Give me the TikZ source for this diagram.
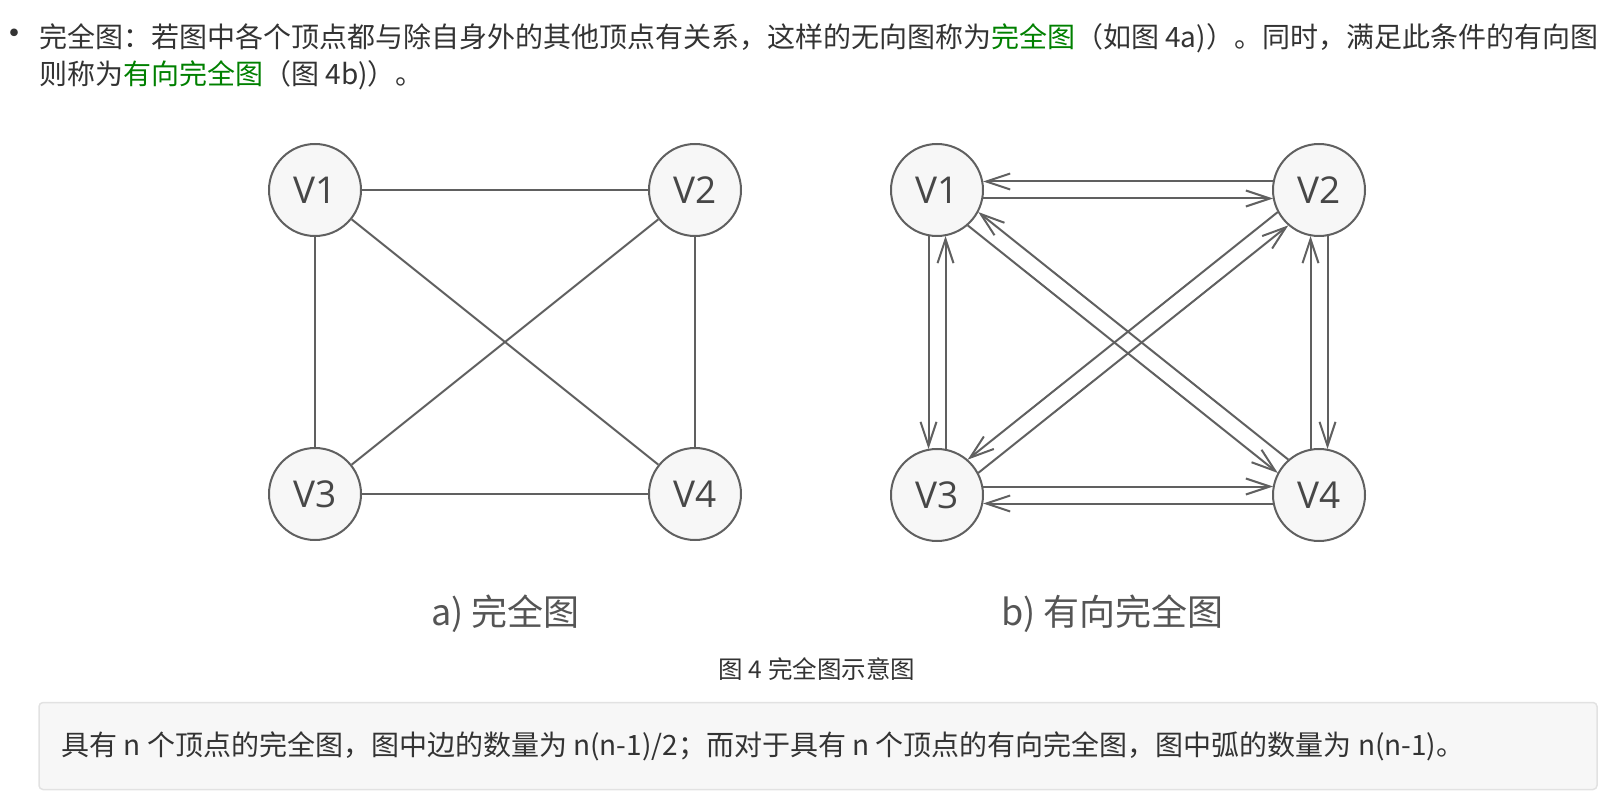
\documentclass[tikz,border=0pt]{standalone}
\usepackage{fontspec}
\setmainfont{Noto Sans CJK SC}
\newfontfamily\vfont{Open Sans}
\usepackage{xcolor}
\usetikzlibrary{arrows.meta, calc}

\definecolor{inkgray}{HTML}{333333}
\definecolor{linkgreen}{HTML}{008000}
\definecolor{linegray}{HTML}{606060}
\definecolor{nodefill}{HTML}{F7F7F7}
\definecolor{capgray}{HTML}{555555}
\definecolor{boxline}{HTML}{E2E2E2}

\tikzset{
  vertex/.style={circle, draw=linegray, fill=nodefill, line width=2pt, minimum size=92pt, inner sep=0pt, text=inkgray!90, font=\vfont\fontsize{37}{37}\selectfont},
  link/.style={draw=linegray, line width=2pt},
  arc/.style={link, -{Straight Barb[length=24pt, width=16pt]}, shorten <=46pt, shorten >=46pt},
  body/.style={anchor=west, inner sep=0pt, text=inkgray, font=\fontsize{28}{34}\selectfont},
  caption/.style={anchor=west, inner sep=0pt, text=capgray, font=\fontsize{36}{40}\selectfont},
}

\begin{document}
\begin{tikzpicture}[x=1pt, y=-1pt]
            \useasboundingbox (0,0) rectangle (1618,802);

            % text above the figure
            \node[body, anchor=center, font=\fontsize{36}{36}\selectfont] (dot) at (15,38) {•};
            \node[body] (intro) at (39,38) {完全图：若图中各个顶点都与除自身外的其他顶点有关系，这样的无向图称为\textcolor{linkgreen}{完全图}（如图 4a)）。同时，满足此条件的有向图};
            \node[body] (introcont) at (39,75) {则称为\textcolor{linkgreen}{有向完全图}（图 4b)）。};

            % a) complete graph
            \node[vertex] (av1) at (315,190) {V1};
            \node[vertex, right of=av1, node distance=380pt] (av2) {V2};
            \node[vertex, below of=av1, node distance=304pt] (av3) {V3};
            \node[vertex, right of=av3, node distance=380pt] (av4) {V4};

            \draw[link] (av1) -- (av2);
            \draw[link] (av1) -- (av3);
            \draw[link] (av1) -- (av4);
            \draw[link] (av2) -- (av3);
            \draw[link] (av2) -- (av4);
            \draw[link] (av3) -- (av4);

            % b) directed complete graph
            \node[vertex] (bv1) at (937,190) {V1};
            \node[vertex, right of=bv1, node distance=382pt] (bv2) {V2};
            \node[vertex, below of=bv1, node distance=305pt] (bv3) {V3};
            \node[vertex, right of=bv3, node distance=382pt] (bv4) {V4};

            \foreach \from/\to/\turn in {bv1/bv2/-90, bv2/bv1/-90, bv1/bv3/-90, bv3/bv1/-90,
                                         bv1/bv4/-90, bv4/bv1/-90, bv3/bv2/-90, bv2/bv3/-90,
                                         bv3/bv4/90, bv4/bv3/90, bv2/bv4/90, bv4/bv2/90}
              \draw[arc] ($(\from)!8.5pt!\turn:(\to)$) -- ($(\to)!-8.5pt!\turn:(\from)$);

            \node[caption] (capa) at (431,614) {a) 完全图};
            \node[caption] (capb) at (1001,614) {b) 有向完全图};
            \node[body, anchor=center, font=\fontsize{24.5}{28}\selectfont] (figcap) at (817,669) {图 4 完全图示意图};

            % note box
            \node[draw=boxline, fill=nodefill, line width=1.5pt, rounded corners=4pt, minimum width=1558pt, minimum height=87pt, inner sep=0pt] (note) at (818,746) {};
            \node[body] (notetext) at ([xshift=23pt]note.west) {具有 n 个顶点的完全图，图中边的数量为 n(n-1)/2；而对于具有 n 个顶点的有向完全图，图中弧的数量为 n(n-1)。};
        \end{tikzpicture}
\end{document}
